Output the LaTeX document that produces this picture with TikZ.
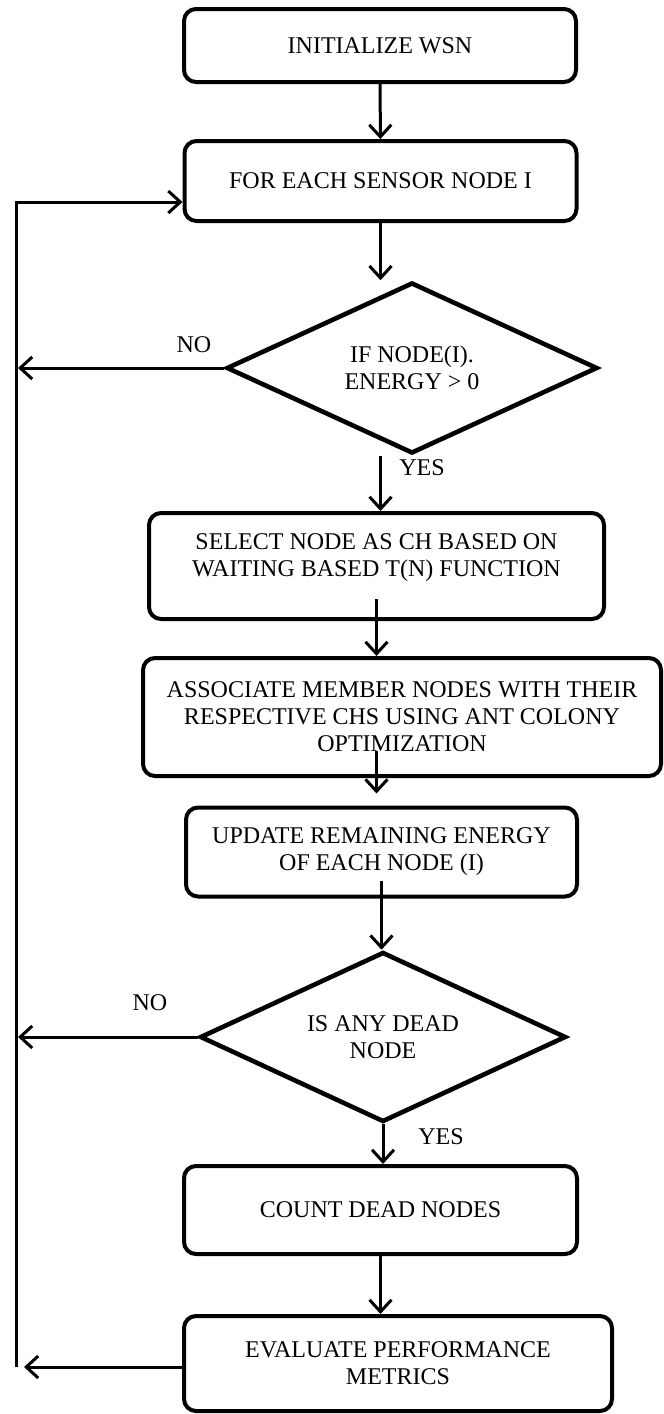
\documentclass[tikz,border=0pt]{standalone}
\usepackage{fontspec}
\setmainfont{Liberation Serif}
\usetikzlibrary{arrows.meta, positioning, shapes.geometric}

\begin{document}
\begin{tikzpicture}[
x=0.5pt, y=-0.5pt,
box/.style={rectangle, draw, line width=2pt, rounded corners=6pt, align=center, inner sep=0pt, font=\fontsize{12}{13.5}\selectfont},
decision/.style={diamond, draw, line width=2.3pt, align=center, inner sep=0pt, aspect=2.17, font=\fontsize{12}{13.5}\selectfont},
arrow/.style={-{Straight Barb[length=6pt,width=11pt]}, line width=1.5pt},
lbl/.style={font=\fontsize{12}{13.5}\selectfont}
]
\useasboundingbox (0,0) rectangle (664,1414);

\node[box, minimum width=196pt, minimum height=36.5pt] (init) at (380,45.5) {INITIALIZE WSN};
\node[box, minimum width=196pt, minimum height=40pt] (foreach) at (380.5,181) {FOR EACH SENSOR NODE I};
\node[decision, minimum width=185.5pt, minimum height=85.5pt] (chk) at (412,368) {IF NODE(I).\\ENERGY > 0};
\node[box, minimum width=227.5pt, minimum height=53pt] (sel) at (376.5,566) {SELECT NODE AS CH BASED ON\\WAITING BASED T(N) FUNCTION\\[-2.5pt]};
\node[box, minimum width=259pt, minimum height=59pt] (assoc) at (402,717) {ASSOCIATE MEMBER NODES WITH THEIR\\RESPECTIVE CHS USING ANT COLONY\\OPTIMIZATION};
\node[box, minimum width=195.5pt, minimum height=44.5pt] (upd) at (381.5,852) {UPDATE REMAINING ENERGY\\OF EACH NODE (I)};
\node[decision, minimum width=183pt, minimum height=85pt] (dead) at (383,1037) {IS ANY DEAD\\NODE};
\node[box, minimum width=196.5pt, minimum height=44pt] (count) at (380.5,1210) {COUNT DEAD NODES};
\node[box, minimum width=214pt, minimum height=47.5pt] (eval) at (398,1363.5) {EVALUATE PERFORMANCE\\METRICS};

% labels
\node[lbl] (no1) at (194,345) {NO};
\node[lbl] (yes1) at (422,468) {YES};
\node[lbl] (no2) at (150,1003) {NO};
\node[lbl] (yes2) at (441,1137) {YES};

% return line
\coordinate (top) at (16,202);
\coordinate (bot) at (16,1367);

% main flow
\draw[arrow] (init) -- (foreach);
\draw[arrow] (foreach.south) -- (foreach.south |- chk.north);
\draw[arrow] (foreach.south |- chk.south) -- (foreach.south |- sel.north);
\draw[arrow] ([yshift=11pt]sel.south) -- (sel.south |- assoc.north);
\draw[arrow, shorten >=6pt] ([yshift=13.5pt]assoc.south -| sel.south) -- (sel.south |- upd.north);
\draw[arrow] ([yshift=9pt]upd.south) -- (upd.south |- dead.north);
\draw[arrow] (dead) -- (dead |- count.north);
\draw[arrow] (count) -- (eval.north -| count.south);

% loop back
\draw[arrow] (chk.west) -- ([xshift=1pt]chk.west -| top);
\draw[arrow] (dead.west) -- ([xshift=1pt]dead.west -| top);
\draw[arrow] (eval.west |- bot) -- ([xshift=4pt]bot);
\draw[arrow] (bot) -- (top) -- (top -| foreach.west);
\end{tikzpicture}
\end{document}
